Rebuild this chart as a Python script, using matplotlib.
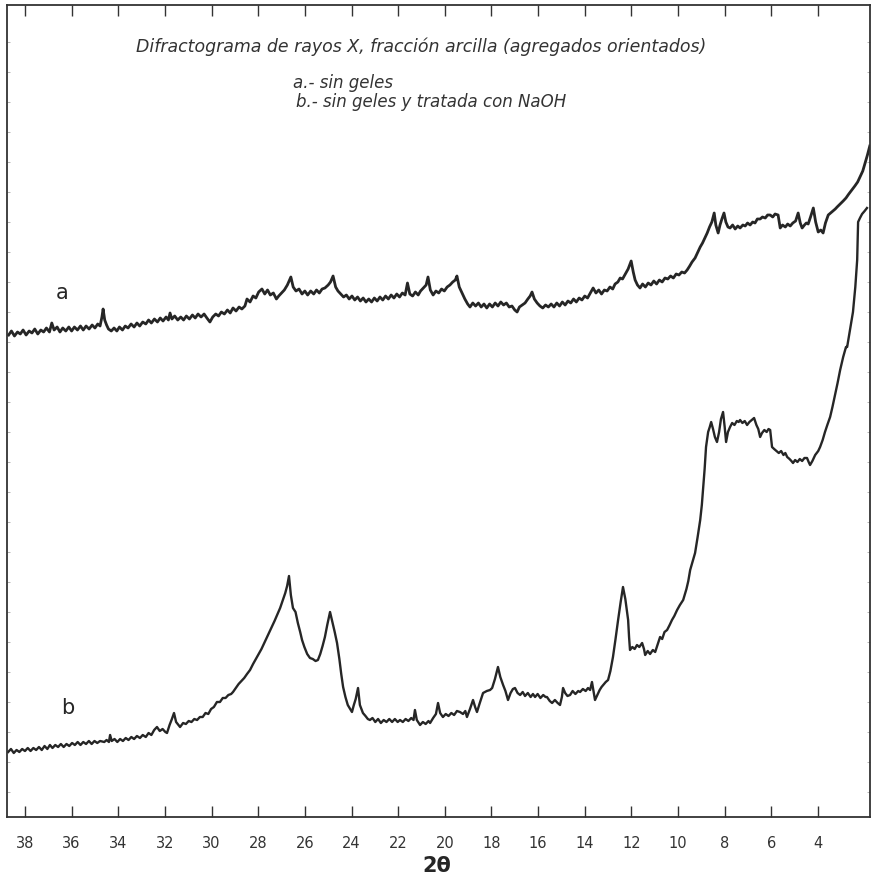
import numpy as np
import matplotlib.pyplot as plt

# diffractogram a: clay fraction without gels (2-theta, intensity)
two_theta_a = [38.70, 38.58, 38.45, 38.32, 38.20, 38.08, 37.95, 37.82, 37.70, 37.58,
               37.45, 37.32, 37.20, 37.08, 36.95, 36.85, 36.75, 36.62, 36.50, 36.38,
               36.25, 36.12, 36.00, 35.88, 35.75, 35.62, 35.50, 35.38, 35.25, 35.12,
               35.00, 34.88, 34.78, 34.70, 34.65, 34.58, 34.50, 34.42, 34.30, 34.18,
               34.06, 33.95, 33.82, 33.70, 33.58, 33.45, 33.32, 33.20, 33.08, 32.95,
               32.82, 32.70, 32.58, 32.45, 32.32, 32.20, 32.08, 31.95, 31.85, 31.78,
               31.70, 31.58, 31.45, 31.32, 31.20, 31.08, 30.95, 30.82, 30.70, 30.58,
               30.45, 30.32, 30.20, 30.07, 29.95, 29.82, 29.70, 29.58, 29.45, 29.32,
               29.20, 29.08, 28.95, 28.82, 28.70, 28.57, 28.48, 28.35, 28.22, 28.10,
               27.98, 27.84, 27.72, 27.60, 27.48, 27.35, 27.22, 27.12, 27.00, 26.88,
               26.75, 26.60, 26.50, 26.38, 26.25, 26.12, 26.00, 25.88, 25.75, 25.62,
               25.50, 25.38, 25.26, 25.14, 25.00, 24.90, 24.79, 24.68, 24.58, 24.46,
               24.34, 24.22, 24.10, 23.98, 23.86, 23.74, 23.62, 23.50, 23.38, 23.26,
               23.14, 23.02, 22.90, 22.78, 22.66, 22.54, 22.42, 22.30, 22.18, 22.06,
               21.94, 21.82, 21.70, 21.60, 21.50, 21.38, 21.26, 21.14, 21.04, 20.92,
               20.80, 20.72, 20.62, 20.50, 20.38, 20.26, 20.14, 20.02, 19.90, 19.78,
               19.66, 19.55, 19.48, 19.38, 19.26, 19.14, 19.02, 18.92, 18.80, 18.68,
               18.56, 18.44, 18.32, 18.20, 18.08, 17.96, 17.84, 17.72, 17.60, 17.48,
               17.36, 17.24, 17.12, 17.00, 16.90, 16.80, 16.68, 16.56, 16.44, 16.34,
               16.26, 16.16, 16.04, 15.92, 15.80, 15.68, 15.56, 15.44, 15.32, 15.20,
               15.08, 14.96, 14.84, 14.72, 14.60, 14.48, 14.36, 14.24, 14.12, 14.00,
               13.88, 13.76, 13.64, 13.52, 13.40, 13.28, 13.16, 13.04, 12.92, 12.80,
               12.70, 12.58, 12.48, 12.38, 12.26, 12.14, 12.01, 11.92, 11.84, 11.74,
               11.63, 11.52, 11.40, 11.28, 11.16, 11.04, 10.92, 10.80, 10.68, 10.56,
               10.44, 10.32, 10.20, 10.08, 9.96, 9.84, 9.72, 9.61, 9.50, 9.40,
               9.27, 9.15, 9.05, 8.95, 8.85, 8.75, 8.65, 8.55, 8.45, 8.38,
               8.28, 8.20, 8.12, 8.03, 7.95, 7.86, 7.77, 7.66, 7.55, 7.44,
               7.34, 7.22, 7.12, 7.02, 6.91, 6.80, 6.70, 6.60, 6.48, 6.38,
               6.26, 6.16, 6.05, 5.94, 5.84, 5.71, 5.62, 5.52, 5.40, 5.30,
               5.19, 5.08, 4.96, 4.85, 4.76, 4.68, 4.58, 4.50, 4.42, 4.32,
               4.20, 4.10, 3.99, 3.88, 3.78, 3.68, 3.56, 3.46, 3.36, 3.26,
               3.18, 3.05, 2.92, 2.80, 2.68, 2.55, 2.42, 2.30, 2.18, 2.08,
               1.98, 1.88, 1.78]
counts_a = [482, 486, 481, 485, 483, 487, 482, 486, 484, 488,
            483, 487, 485, 489, 485, 494, 487, 490, 485, 489,
            486, 490, 486, 490, 487, 491, 487, 491, 488, 492,
            489, 493, 491, 500, 508, 497, 492, 488, 486, 489,
            486, 490, 487, 491, 489, 493, 490, 494, 491, 495,
            493, 497, 494, 498, 495, 499, 496, 500, 497, 504,
            498, 501, 497, 500, 497, 501, 498, 502, 499, 503,
            500, 503, 499, 495, 500, 503, 501, 505, 503, 507,
            504, 509, 506, 510, 508, 511, 518, 515, 521, 519,
            525, 528, 523, 527, 522, 524, 518, 521, 524, 527,
            532, 540, 530, 526, 528, 523, 526, 522, 526, 523,
            527, 524, 528, 529, 532, 535, 541, 530, 526, 523,
            520, 522, 518, 521, 517, 520, 516, 519, 515, 518,
            515, 519, 516, 520, 517, 521, 518, 522, 519, 523,
            520, 524, 522, 534, 523, 521, 525, 522, 526, 529,
            532, 540, 527, 522, 526, 524, 528, 526, 530, 532,
            535, 537, 541, 530, 524, 518, 513, 510, 514, 511,
            514, 510, 513, 509, 513, 510, 514, 511, 515, 512,
            514, 510, 511, 507, 505, 510, 512, 514, 518, 521,
            525, 518, 514, 511, 509, 512, 510, 513, 510, 514,
            511, 515, 512, 516, 514, 518, 515, 519, 517, 521,
            519, 524, 529, 524, 527, 523, 527, 526, 530, 528,
            533, 535, 539, 538, 543, 548, 556, 545, 537, 532,
            529, 533, 530, 534, 532, 536, 533, 537, 535, 539,
            538, 541, 539, 543, 542, 545, 544, 547, 551, 555,
            559, 565, 570, 574, 579, 584, 590, 595, 604, 592,
            584, 592, 598, 604, 595, 590, 589, 592, 588, 591,
            589, 592, 591, 594, 592, 595, 594, 598, 598, 600,
            599, 602, 602, 600, 603, 602, 589, 592, 590, 593,
            591, 594, 596, 604, 594, 589, 592, 594, 593, 600,
            609, 595, 585, 587, 584, 594, 602, 604, 606, 608,
            610, 613, 616, 619, 623, 627, 631, 635, 641, 646,
            654, 662, 671]

# diffractogram b: without gels and treated with NaOH
two_theta_b = [38.72, 38.60, 38.48, 38.36, 38.24, 38.12, 38.00, 37.88, 37.76, 37.64,
               37.52, 37.40, 37.28, 37.16, 37.04, 36.93, 36.82, 36.70, 36.58, 36.46,
               36.34, 36.22, 36.10, 35.98, 35.86, 35.74, 35.62, 35.50, 35.38, 35.26,
               35.14, 35.02, 34.90, 34.78, 34.60, 34.50, 34.40, 34.35, 34.28, 34.16,
               34.04, 33.92, 33.80, 33.68, 33.56, 33.44, 33.32, 33.20, 33.07, 32.95,
               32.82, 32.70, 32.58, 32.46, 32.34, 32.22, 32.10, 31.98, 31.91, 31.80,
               31.70, 31.61, 31.52, 31.42, 31.35, 31.22, 31.10, 30.98, 30.86, 30.74,
               30.62, 30.50, 30.38, 30.26, 30.14, 30.02, 29.90, 29.77, 29.64, 29.52,
               29.40, 29.28, 29.16, 29.08, 28.96, 28.84, 28.72, 28.60, 28.48, 28.35,
               28.22, 28.10, 27.98, 27.86, 27.74, 27.62, 27.50, 27.40, 27.30, 27.19,
               27.06, 26.94, 26.84, 26.76, 26.68, 26.60, 26.51, 26.40, 26.30, 26.20,
               26.12, 26.02, 25.90, 25.78, 25.66, 25.54, 25.44, 25.34, 25.24, 25.14,
               25.04, 24.92, 24.82, 24.72, 24.62, 24.52, 24.44, 24.36, 24.26, 24.16,
               24.06, 23.98, 23.90, 23.82, 23.72, 23.64, 23.51, 23.40, 23.30, 23.21,
               23.10, 22.98, 22.86, 22.74, 22.62, 22.50, 22.38, 22.26, 22.14, 22.02,
               21.92, 21.80, 21.68, 21.56, 21.44, 21.34, 21.28, 21.20, 21.06, 20.94,
               20.82, 20.70, 20.63, 20.50, 20.38, 20.29, 20.20, 20.08, 19.96, 19.84,
               19.72, 19.60, 19.48, 19.35, 19.22, 19.12, 19.05, 18.92, 18.79, 18.70,
               18.62, 18.50, 18.36, 18.20, 18.06, 17.97, 17.85, 17.72, 17.62, 17.50,
               17.40, 17.29, 17.18, 17.08, 16.99, 16.88, 16.77, 16.66, 16.56, 16.44,
               16.32, 16.22, 16.13, 16.02, 15.90, 15.78, 15.68, 15.62, 15.50, 15.40,
               15.28, 15.16, 15.06, 14.98, 14.93, 14.84, 14.74, 14.63, 14.52, 14.40,
               14.28, 14.20, 14.08, 13.96, 13.86, 13.77, 13.69, 13.62, 13.56, 13.46,
               13.36, 13.28, 13.21, 13.10, 13.00, 12.90, 12.79, 12.68, 12.57, 12.46,
               12.36, 12.26, 12.14, 12.10, 12.06, 11.96, 11.86, 11.76, 11.66, 11.54,
               11.46, 11.41, 11.30, 11.20, 11.08, 10.98, 10.88, 10.77, 10.68, 10.58,
               10.47, 10.36, 10.26, 10.16, 10.04, 9.92, 9.78, 9.64, 9.56, 9.48,
               9.38, 9.27, 9.16, 9.05, 8.98, 8.93, 8.86, 8.80, 8.75, 8.71,
               8.64, 8.58, 8.50, 8.42, 8.33, 8.24, 8.16, 8.07, 8.00, 7.94,
               7.86, 7.77, 7.68, 7.58, 7.48, 7.40, 7.34, 7.24, 7.14, 7.04,
               6.94, 6.84, 6.74, 6.64, 6.56, 6.48, 6.40, 6.30, 6.20, 6.12,
               6.05, 5.97, 5.88, 5.78, 5.68, 5.58, 5.48, 5.40, 5.32, 5.22,
               5.14, 5.07, 4.98, 4.88, 4.78, 4.68, 4.58, 4.47, 4.40, 4.34,
               4.24, 4.12, 3.99, 3.91, 3.80, 3.70, 3.60, 3.48, 3.38, 3.27,
               3.16, 3.05, 2.92, 2.80, 2.75, 2.62, 2.50, 2.40, 2.32, 2.28,
               2.20, 2.11, 2.00, 1.90]
counts_b = [65, 68, 64, 67, 65, 68, 66, 69, 66, 69,
            67, 70, 67, 71, 68, 72, 69, 72, 70, 73,
            70, 73, 71, 74, 72, 75, 72, 75, 73, 76,
            73, 76, 74, 76, 75, 77, 75, 82, 76, 78,
            75, 78, 76, 79, 77, 80, 78, 81, 79, 82,
            80, 84, 82, 87, 90, 86, 88, 85, 84, 92,
            98, 104, 95, 92, 90, 94, 93, 96, 95, 98,
            97, 100, 100, 104, 103, 108, 110, 115, 115, 119,
            119, 122, 123, 125, 129, 133, 136, 139, 143, 147,
            153, 158, 163, 168, 174, 180, 186, 191, 196, 202,
            209, 217, 224, 231, 241, 222, 209, 205, 194, 185,
            177, 170, 163, 159, 158, 156, 157, 163, 171, 180,
            192, 205, 195, 185, 174, 158, 143, 130, 120, 112,
            108, 105, 112, 118, 129, 112, 104, 101, 98, 97,
            99, 95, 98, 94, 97, 95, 98, 95, 98, 95,
            97, 95, 98, 96, 99, 97, 107, 97, 92, 95,
            93, 96, 94, 99, 103, 114, 104, 100, 103, 101,
            104, 102, 106, 105, 103, 106, 100, 108, 117, 110,
            105, 114, 124, 126, 127, 129, 138, 150, 140, 132,
            126, 117, 124, 128, 129, 124, 122, 125, 121, 124,
            120, 123, 120, 123, 119, 122, 120, 120, 116, 114,
            117, 114, 112, 120, 129, 124, 121, 122, 126, 123,
            126, 125, 128, 126, 129, 127, 135, 125, 117, 122,
            127, 130, 132, 135, 137, 146, 160, 178, 197, 215,
            230, 218, 197, 180, 167, 170, 168, 172, 170, 174,
            168, 162, 166, 163, 167, 165, 172, 180, 178, 185,
            187, 192, 197, 201, 207, 212, 217, 228, 236, 247,
            255, 264, 280, 297, 312, 327, 348, 370, 378, 385,
            390, 395, 388, 380, 375, 385, 398, 405, 390, 375,
            385, 390, 394, 392, 396, 395, 397, 394, 396, 392,
            395, 397, 399, 392, 388, 380, 384, 387, 385, 388,
            387, 370, 368, 366, 364, 366, 362, 364, 360, 358,
            356, 354, 357, 355, 358, 356, 359, 359, 355, 352,
            356, 362, 366, 370, 377, 385, 392, 400, 410, 422,
            434, 447, 460, 470, 470, 488, 505, 530, 557, 595,
            599, 603, 606, 609]

xticks = [38, 36, 34, 32, 30, 28, 26, 24, 22, 20, 18, 16, 14, 12, 10, 8, 6, 4]

ink = '#262626'
fig = plt.figure(figsize=(8.71, 8.77), dpi=100)
ax = fig.add_axes([7 / 871, 60 / 877, 863 / 871, 812 / 877])

ax.plot(two_theta_a, counts_a, color=ink, lw=2.0)
ax.plot(two_theta_b, counts_b, color=ink, lw=1.7)

ax.set_xlim(38.77, 1.77)
ax.set_ylim(0, 812)

ax.set_xticks(xticks)
ax.set_xticklabels([str(t) for t in xticks], fontsize=10.5, color='#333333')
ax.tick_params(axis='x', direction='in', length=8, width=1.0, pad=14,
               top=True, colors='#333333')
# faint scale notches along the side edges
ax.set_yticks(np.arange(25, 800, 30))
ax.tick_params(axis='y', direction='in', length=2, width=0.5, left=True,
               right=True, labelleft=False, colors='#999999')
for sp in ax.spines.values():
    sp.set_color('#333333')
    sp.set_linewidth(1.3)

ax.text(36.41, 524, 'a', fontsize=15, color=ink, ha='center', va='center')
ax.text(36.16, 109, 'b', fontsize=15, color=ink, ha='center', va='center')

fig.text(0.484, 1 - 47 / 877,
         'Difractograma de rayos X, fracción arcilla (agregados orientados)',
         fontsize=12.5, style='italic', color='#333333', ha='center', va='center')
fig.text(293 / 871, 1 - 83 / 877, 'a.- sin geles',
         fontsize=12, style='italic', color='#333333', ha='left', va='center')
fig.text(296 / 871, 1 - 102 / 877, 'b.- sin geles y tratada con NaOH',
         fontsize=12, style='italic', color='#333333', ha='left', va='center')

fig.text(437 / 871, 1 - 866 / 877, '2θ', fontsize=15, fontweight='bold',
         color=ink, ha='center', va='center')

fig.savefig('out.png', dpi=100)
